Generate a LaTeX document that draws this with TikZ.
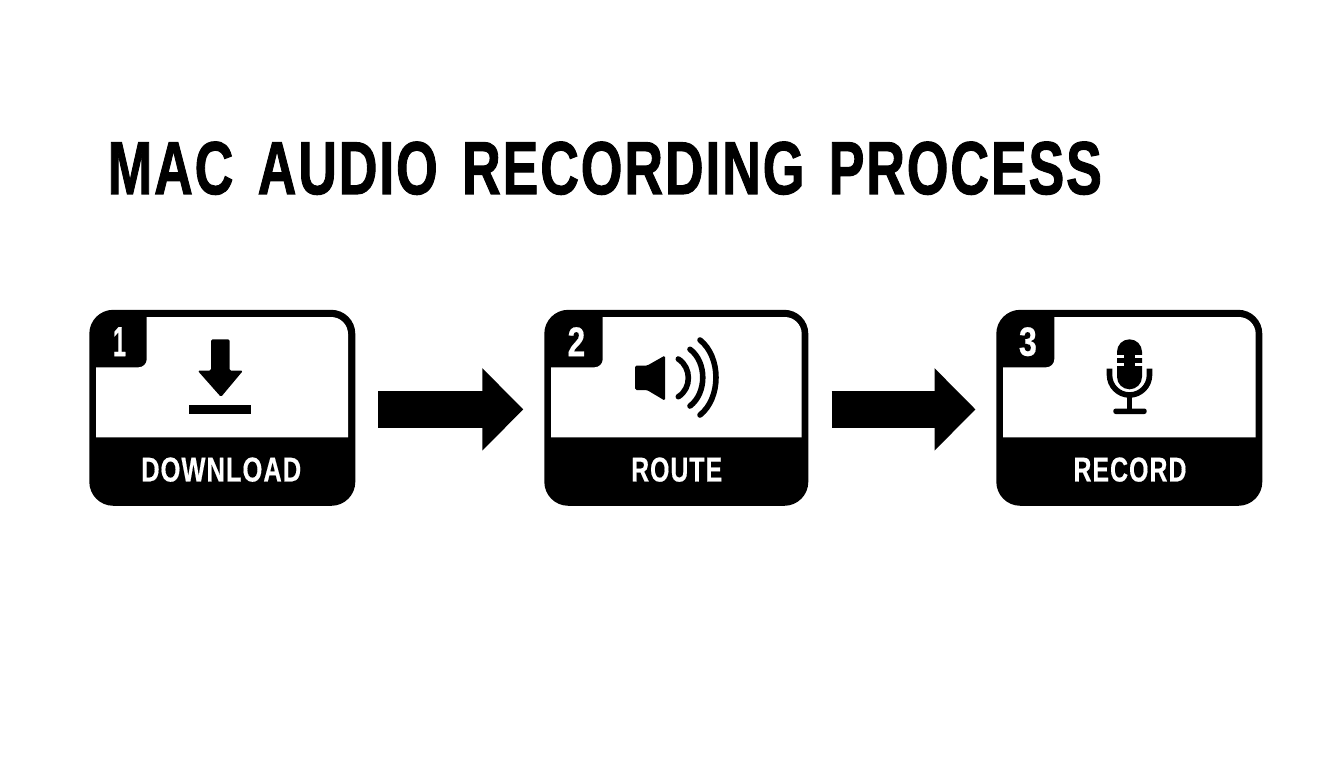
\documentclass[tikz,border=0pt]{standalone}
\usepackage{fontspec}
\usepackage{graphicx}
\usetikzlibrary{arrows.meta}
\newfontfamily\titlefont[FakeBold=1.6,LetterSpace=3.5,WordSpace=1.45]{Liberation Sans Bold}
\newfontfamily\labelfont[FakeBold=0.5,LetterSpace=4,WordSpace=1]{Liberation Sans Bold}
\newcommand{\fitbox}[3]{\resizebox*{#1pt}{#2pt}{#3}}
\tikzset{
  cardbox/.style={draw=none,fill=black,rounded corners=24pt,inner sep=0pt,minimum height=196pt},
  txt/.style={inner sep=0pt,anchor=north west},
  lbl/.style={txt,text=white},
  blockarrow/.style={line width=36.7pt,draw=black,-{Triangle[length=41pt,width=80pt]}},
  icon/.style={fill=black,draw=none},
  wave/.style={line width=5.6pt,line cap=round,draw=black},
}
\begin{document}
\begin{tikzpicture}[x=1pt,y=-1pt]
\useasboundingbox (0,0) rectangle (1344,768);
\fill[white] (0,0) rectangle (1344,768);
% title
\node[txt] (title) at (107.5,141.5) {\fitbox{994}{53}{\titlefont MAC AUDIO RECORDING PROCESS}};
% cards
\node[cardbox,minimum width=266pt] (card1) at (222.3,407.8) {};
\node[cardbox,minimum width=264pt] (card2) at (676.3,407.8) {};
\node[cardbox,minimum width=266pt] (card3) at (1129.3,407.8) {};
% windows
\fill[white] (96,367.3) -- (138.7,367.3) .. controls (143.1,367.3) and (146.7,363.7) .. (146.7,359.3) -- (146.7,317) -- (331,317) .. controls (340.4,317) and (348,324.6) .. (348,334) -- (348,437.3) -- (96,437.3) -- cycle;
\fill[white] (551,367.3) -- (594.7,367.3) .. controls (599.1,367.3) and (602.7,363.7) .. (602.7,359.3) -- (602.7,317) -- (784.7,317) .. controls (794.1,317) and (801.7,324.6) .. (801.7,334) -- (801.7,437.3) -- (551,437.3) -- cycle;
\fill[white] (1003,367.3) -- (1046.3,367.3) .. controls (1050.7,367.3) and (1054.3,363.7) .. (1054.3,359.3) -- (1054.3,317) -- (1238.7,317) .. controls (1248.1,317) and (1255.7,324.6) .. (1255.7,334) -- (1255.7,437.3) -- (1003,437.3) -- cycle;
% numbers
\node[lbl] (num1) at (112.7,327) {\fitbox{13}{29}{\labelfont 1}};
\node[lbl] (num2) at (567.3,327) {\fitbox{17.7}{29}{\labelfont 2}};
\node[lbl] (num3) at (1018.7,327) {\fitbox{18}{29}{\labelfont 3}};
% labels
\node[lbl] (lab1) at (141,457.2) {\fitbox{160}{24.4}{\labelfont DOWNLOAD}};
\node[lbl] (lab2) at (631,457.2) {\fitbox{91}{24.4}{\labelfont ROUTE}};
\node[lbl] (lab3) at (1073.3,457.2) {\fitbox{113}{24.4}{\labelfont RECORD}};
% download icon
\fill[icon,rounded corners=1.5pt] (211,339.3) -- (229.7,339.3) -- (229.7,370.7) -- (243,370.7) -- (221,397) -- (197.7,370.7) -- (211,370.7) -- cycle;
\fill[icon] (189.3,405) rectangle (251,414);
% speaker icon
\fill[icon,rounded corners=1.5pt] (635,365.7) -- (647,365.7) -- (665,355.5) -- (665,400.7) -- (647,390) -- (635,390) -- cycle;
\draw[wave] (678.3,359) .. controls (691.7,367.5) and (691.7,388.5) .. (678.3,396.7);
\draw[wave] (690,349.3) .. controls (707,362) and (707,393) .. (690,406);
\draw[wave] (700,340) .. controls (721.3,357) and (721.3,398) .. (700,415);
% microphone icon
\fill[icon] (1117,351.8) .. controls (1117,344.9) and (1122.6,339.3) .. (1129.5,339.3) .. controls (1136.4,339.3) and (1142,344.9) .. (1142,351.8) -- (1142,376.8) .. controls (1142,383.7) and (1136.4,389.3) .. (1129.5,389.3) .. controls (1122.6,389.3) and (1117,383.7) .. (1117,376.8) -- cycle;
\draw[white,line width=3.2pt] (1116,356.3) -- (1124,356.3) (1135,356.3) -- (1143,356.3) (1116,364.3) -- (1124,364.3) (1135,364.3) -- (1143,364.3);
\draw[black,line width=5.6pt] (1109.5,368.7) -- (1109.5,375) .. controls (1109.5,386) and (1118.5,395) .. (1129.5,395) .. controls (1140.5,395) and (1149.5,386) .. (1149.5,375) -- (1149.5,368.7);
\fill[icon] (1127.3,396) rectangle (1131.7,410);
\fill[icon,rounded corners=2.4pt] (1113.3,408.5) rectangle (1146.7,414);
% connectors
\draw[blockarrow,shorten <=22.8pt,shorten >=20.8pt] ([yshift=-1.6pt]card1.east) -- ([yshift=-1.6pt]card2.west);
\draw[blockarrow,shorten <=23pt,shorten >=20.6pt] ([yshift=-1.6pt]card2.east) -- ([yshift=-1.6pt]card3.west);
\end{tikzpicture}
\end{document}
